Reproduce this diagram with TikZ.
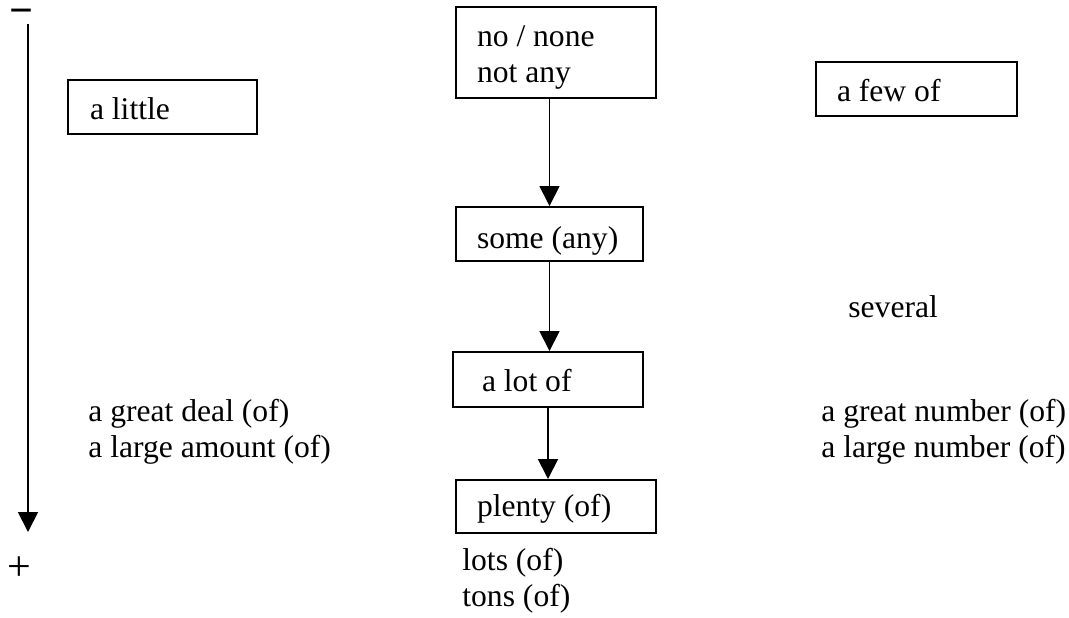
\documentclass[tikz,border=0pt]{standalone}
\usepackage{fontspec}
\setmainfont{Liberation Serif}
\usetikzlibrary{arrows.meta}

\tikzset{
  plain spaces/.style={execute at begin node={\spaceskip=0pt\xspaceskip=0pt\relax}},
  wordbox/.style={draw, line width=1pt, anchor=north west, inner ysep=0pt,
    inner xsep=10.5pt, align=left, text height=19.5pt, text depth=7.5pt, plain spaces},
  words/.style={anchor=base west, inner sep=0pt, align=left, text width=130pt, plain spaces},
  sign/.style={anchor=base, inner sep=0pt, font=\fontsize{21}{21}\selectfont},
  down/.style={line width=0.9pt, -{Triangle[length=10pt,width=10pt]}}
}

\begin{document}
\begin{tikzpicture}[x=0.5pt, y=-0.5pt, font=\fontsize{15.8}{18.3}\selectfont]
  \useasboundingbox (0,0) rectangle (1069,617);
  % scale on the left
  \node[sign] (minus) at (21.5,24) {\textbf{\textminus}};
  \node[sign] (plus) at (19,580) {+};
  \coordinate (axtop) at (28,24);
  \coordinate (axend) at (28,532);
  \draw[down] (axtop) -- (axend);

  \node[wordbox, text width=72.5pt, inner xsep=11pt] (little) at (67,79) {a little};
  \node[wordbox, text width=79pt, text depth=26pt] (none) at (455,6) {no / none\\not any};
  \node[wordbox, text width=79.5pt] (few) at (815,61) {a few of};
  \node[wordbox, text width=72.5pt, text height=20.5pt, text depth=6.5pt] (some) at (455,206) {some (any)};
  \node[wordbox, text width=66pt, inner xsep=14.5pt, text depth=8pt] (lot) at (452,351) {a lot of};
  \node[wordbox, text width=79pt, text height=18pt, text depth=8.5pt] (plenty) at (455,479) {plenty (of)};

  \node[words] (several) at (848,317) {several};
  \node[words] (deal) at (88,421) {a great deal (of)\\a large amount (of)};
  \node[words] (number) at (821,421) {a great number (of)\\a large number (of)};
  \node[words] (lots) at (462,570) {lots (of)\\tons (of)};

  \draw[down] (none.south -| some.north) -- (some.north);
  \draw[down] (some.south) -- (some.south |- lot.north);
  \draw[down] (lot.south) -- (lot.south |- plenty.north);
\end{tikzpicture}
\end{document}
